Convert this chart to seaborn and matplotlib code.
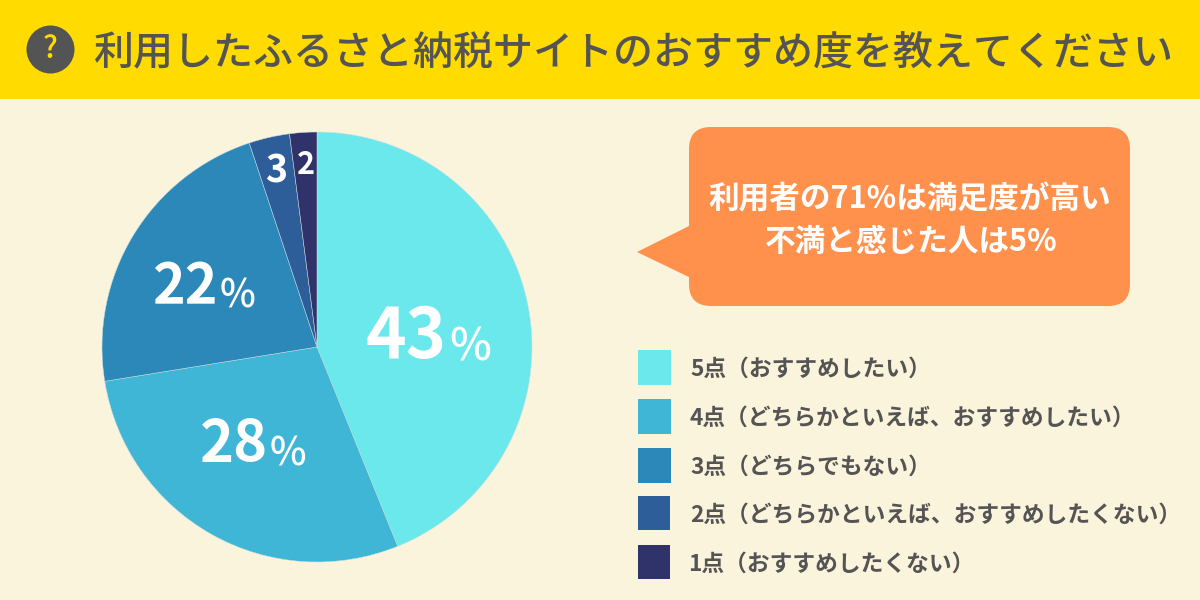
import matplotlib
matplotlib.use("Agg")
import matplotlib.pyplot as plt
from matplotlib.patches import Rectangle, FancyBboxPatch, Polygon, Circle
import seaborn as sns

sns.set_theme(style="white")
plt.rcParams['font.family'] = ['Noto Sans CJK JP', 'DejaVu Sans']

title = "利用したふるさと納税サイトのおすすめ度を教えてください"
categories = ["5点（おすすめしたい）", "4点（どちらかといえば、おすすめしたい）", "3点（どちらでもない）",
              "2点（どちらかといえば、おすすめしたくない）", "1点（おすすめしたくない）"]
values = [43, 28, 22, 3, 2]
callout = ["利用者の71%は満足度が高い", "不満と感じた人は5%"]
colors = ["#6AE8EB", "#3FB6D6", "#2B88B8", "#2E5E99", "#2F3369"]
BG = "#FBF4DC"; YEL = "#FFDB00"; ORG = "#FF914D"; TXT = "#545454"

fig = plt.figure(figsize=(12, 6), dpi=100, facecolor=BG)
bg = fig.add_axes([0, 0, 1, 1]); bg.set_xlim(0, 1200); bg.set_ylim(600, 0); bg.axis("off")
bg.add_patch(Rectangle((0, 0), 1200, 99, color=YEL, lw=0))
bg.add_patch(Circle((50.5, 49.5), 24, color=TXT, lw=0))
bg.text(50.5, 49, "?", color=YEL, fontsize=22, fontweight="medium", ha="center", va="center")
bg.text(633, 54, title, color=TXT, fontsize=28.8, fontweight="medium", ha="center", va="center")

bg.add_patch(FancyBboxPatch((689, 127), 441, 179, boxstyle="round,pad=0,rounding_size=22", lw=0, fc=ORG, mutation_aspect=1))
bg.add_patch(Polygon([(695, 223), (637, 252), (695, 280)], color=ORG, lw=0))
bg.text(910, 199, callout[0], color="white", fontsize=22.1, fontweight="bold", ha="center", va="center")
bg.text(911, 242, callout[1], color="white", fontsize=22.1, fontweight="bold", ha="center", va="center")

ys = [350, 399, 448, 496, 545]
hs = [35, 35, 35, 34, 34]
ws = [33, 33, 33, 32, 32]
tx = [690, 690, 690, 690, 688]
for y, h, w, x, c, lab_ in zip(ys, hs, ws, tx, colors, categories):
    bg.add_patch(Rectangle((638, y), w, h, color=c, lw=0))
    bg.text(x, y + 19, lab_, color=TXT, fontsize=16.35, fontweight="bold", ha="left", va="center")

ax = fig.add_axes([102/1200, 1-562/600, 430/1200, 430/600])
ax.pie(values, colors=colors, startangle=90, counterclock=False, radius=1,
       wedgeprops=dict(lw=0.35, edgecolor="#C8DDE0"))
ax.set_xlim(-1, 1); ax.set_ylim(-1, 1); ax.set_aspect("equal")

top = fig.add_axes([0, 0, 1, 1]); top.set_xlim(0, 1200); top.set_ylim(600, 0); top.axis("off")
def lab(x, y, big, size, small=None, small_size=None, small_y=None):
    top.text(x, y, big, color="white", fontsize=size, fontweight="bold",
             ha="right" if small else "center", va="center", family="Noto Sans CJK JP")
    if small:
        top.text(x + 2, small_y, small, color="white", fontsize=small_size, fontweight="medium",
                 ha="left", va="center", family="Noto Sans CJK JP")
lab(447, 338, "43", 49.5, "%", 32, 348)
lab(268, 445, "28", 41.5, "%", 28, 455)
lab(218, 287, "22", 40, "%", 27.4, 296)
lab(276, 171, "3", 27)
lab(305.5, 165, "2", 22)
fig.savefig("out.png", dpi=100, facecolor=BG)
